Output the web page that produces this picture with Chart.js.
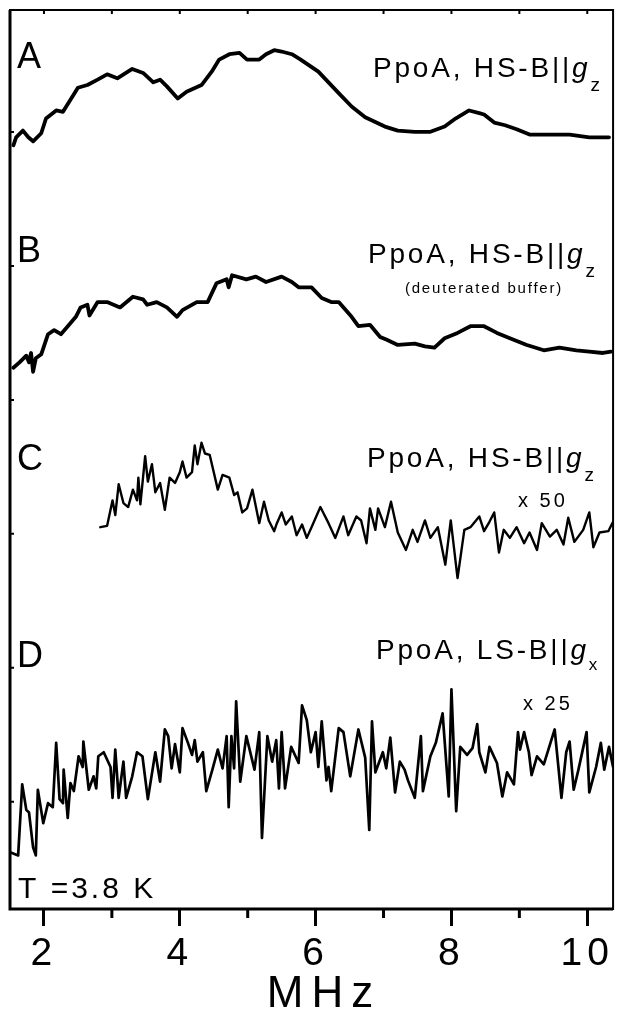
<!DOCTYPE html>
<html>
<head>
<meta charset="utf-8">
<script src="https://cdn.jsdelivr.net/npm/chart.js@4.4.1/dist/chart.umd.min.js"></script>
<style>
  html, body { margin: 0; padding: 0; background: #fff; }
  canvas { display: block; }
</style>
</head>
<body>
<canvas id="chart-canvas" width="618" height="1010"></canvas>
<script>
// spectrum A: PpoA, HS-B||gz
const aFreq = [1.55, 1.59, 1.69, 1.77, 1.84, 1.96, 2.03, 2.18, 2.28, 2.39, 2.50, 2.64, 2.79, 2.93, 3.08, 3.30, 3.46, 3.61, 3.71, 3.81, 3.97, 4.10, 4.32, 4.47, 4.58, 4.73, 4.88, 4.99, 5.17, 5.27, 5.39, 5.50, 5.65, 5.78, 6.04, 6.34, 6.53, 6.73, 7.02, 7.21, 7.46, 7.68, 7.90, 8.06, 8.26, 8.41, 8.48, 8.63, 8.79, 8.96, 9.15, 9.45, 9.74, 10.03, 10.32];
const aSig = [5.90, 5.96, 6.01, 5.96, 5.93, 5.99, 6.10, 6.16, 6.15, 6.24, 6.33, 6.35, 6.39, 6.43, 6.40, 6.47, 6.44, 6.37, 6.39, 6.34, 6.25, 6.30, 6.35, 6.45, 6.54, 6.58, 6.59, 6.54, 6.54, 6.58, 6.61, 6.60, 6.58, 6.54, 6.45, 6.29, 6.19, 6.11, 6.04, 6.01, 6.00, 6.00, 6.04, 6.10, 6.16, 6.14, 6.13, 6.07, 6.05, 6.02, 5.98, 5.98, 5.98, 5.96, 5.96];

// spectrum B: deuterated buffer
const bFreq = [1.55, 1.64, 1.74, 1.78, 1.81, 1.84, 1.88, 1.96, 2.06, 2.15, 2.25, 2.37, 2.47, 2.54, 2.64, 2.67, 2.79, 2.93, 3.12, 3.31, 3.46, 3.52, 3.66, 3.81, 3.96, 4.04, 4.25, 4.41, 4.54, 4.69, 4.72, 4.77, 4.98, 5.12, 5.27, 5.50, 5.65, 5.75, 5.94, 6.09, 6.23, 6.34, 6.53, 6.63, 6.80, 6.95, 7.04, 7.21, 7.46, 7.61, 7.75, 7.90, 8.09, 8.28, 8.48, 8.67, 8.86, 9.11, 9.36, 9.59, 9.84, 10.03, 10.23, 10.35];
const bSig = [4.24, 4.28, 4.33, 4.28, 4.35, 4.21, 4.31, 4.34, 4.49, 4.52, 4.49, 4.56, 4.62, 4.69, 4.71, 4.63, 4.73, 4.73, 4.69, 4.77, 4.75, 4.71, 4.73, 4.69, 4.62, 4.67, 4.73, 4.73, 4.87, 4.90, 4.84, 4.93, 4.90, 4.92, 4.88, 4.92, 4.88, 4.84, 4.84, 4.76, 4.73, 4.73, 4.62, 4.55, 4.56, 4.47, 4.45, 4.41, 4.42, 4.40, 4.39, 4.46, 4.50, 4.55, 4.55, 4.50, 4.46, 4.41, 4.37, 4.39, 4.37, 4.36, 4.35, 4.36];

// spectrum C: x 50
const cFreq = [2.83, 2.93, 3.01, 3.05, 3.10, 3.17, 3.24, 3.31, 3.37, 3.39, 3.42, 3.49, 3.53, 3.59, 3.64, 3.71, 3.78, 3.85, 3.93, 4.00, 4.04, 4.10, 4.18, 4.22, 4.26, 4.32, 4.37, 4.44, 4.56, 4.63, 4.73, 4.80, 4.85, 4.92, 4.99, 5.07, 5.17, 5.24, 5.31, 5.39, 5.43, 5.50, 5.56, 5.65, 5.72, 5.80, 5.87, 5.94, 6.07, 6.19, 6.29, 6.41, 6.48, 6.60, 6.67, 6.75, 6.80, 6.88, 6.92, 7.02, 7.11, 7.21, 7.33, 7.43, 7.50, 7.61, 7.69, 7.80, 7.91, 7.99, 8.09, 8.19, 8.28, 8.41, 8.48, 8.56, 8.63, 8.70, 8.77, 8.86, 8.96, 9.07, 9.15, 9.26, 9.33, 9.45, 9.55, 9.65, 9.72, 9.81, 9.94, 10.03, 10.09, 10.18, 10.31, 10.38];
const cSig = [3.05, 3.06, 3.25, 3.14, 3.37, 3.23, 3.20, 3.33, 3.25, 3.42, 3.22, 3.58, 3.39, 3.52, 3.31, 3.38, 3.18, 3.42, 3.38, 3.46, 3.54, 3.42, 3.46, 3.66, 3.52, 3.68, 3.60, 3.59, 3.33, 3.44, 3.42, 3.29, 3.31, 3.16, 3.19, 3.33, 3.08, 3.24, 3.10, 3.02, 3.08, 3.16, 3.07, 3.13, 2.99, 3.07, 2.97, 3.05, 3.20, 3.08, 2.97, 3.13, 2.99, 3.13, 3.10, 2.93, 3.19, 3.03, 3.19, 3.05, 3.24, 3.01, 2.88, 3.03, 2.94, 3.10, 2.97, 3.05, 2.77, 3.10, 2.67, 3.03, 3.05, 3.13, 3.02, 3.09, 3.16, 2.86, 3.03, 2.97, 3.05, 2.93, 3.01, 2.88, 3.08, 2.98, 3.03, 2.92, 3.12, 2.94, 3.03, 3.16, 2.90, 3.01, 3.02, 3.09];

// spectrum D: PpoA, LS-B||gx, x 25
const dFreq = [1.52, 1.62, 1.68, 1.74, 1.78, 1.84, 1.88, 1.91, 1.99, 2.06, 2.13, 2.18, 2.23, 2.28, 2.29, 2.35, 2.39, 2.44, 2.51, 2.57, 2.58, 2.66, 2.73, 2.77, 2.80, 2.88, 2.98, 3.01, 3.05, 3.10, 3.17, 3.21, 3.30, 3.37, 3.45, 3.53, 3.64, 3.71, 3.78, 3.83, 3.88, 3.93, 4.00, 4.04, 4.12, 4.18, 4.22, 4.26, 4.34, 4.39, 4.48, 4.56, 4.63, 4.69, 4.72, 4.76, 4.80, 4.83, 4.89, 4.98, 5.10, 5.17, 5.21, 5.29, 5.36, 5.42, 5.46, 5.50, 5.55, 5.64, 5.75, 5.80, 5.87, 5.93, 6.00, 6.04, 6.09, 6.16, 6.19, 6.23, 6.34, 6.41, 6.51, 6.63, 6.73, 6.79, 6.83, 6.88, 6.99, 7.04, 7.10, 7.17, 7.24, 7.31, 7.36, 7.46, 7.55, 7.58, 7.69, 7.77, 7.87, 7.96, 8.00, 8.07, 8.13, 8.23, 8.31, 8.38, 8.41, 8.50, 8.56, 8.67, 8.75, 8.82, 8.92, 8.98, 9.01, 9.07, 9.14, 9.18, 9.26, 9.36, 9.52, 9.62, 9.69, 9.74, 9.80, 9.87, 9.99, 10.03, 10.13, 10.20, 10.25, 10.32, 10.38];
const dSig = [0.62, 0.60, 1.13, 0.94, 0.92, 0.66, 0.60, 1.09, 0.84, 0.99, 0.96, 1.44, 1.02, 0.99, 1.24, 0.88, 1.14, 1.08, 1.34, 1.26, 1.45, 1.09, 1.19, 1.10, 1.34, 1.37, 1.26, 1.03, 1.39, 1.03, 1.30, 1.03, 1.19, 1.37, 1.34, 1.02, 1.37, 1.15, 1.54, 1.49, 1.25, 1.43, 1.22, 1.55, 1.44, 1.35, 1.46, 1.30, 1.37, 1.08, 1.24, 1.39, 1.25, 1.49, 0.96, 1.49, 1.25, 1.75, 1.15, 1.49, 1.24, 1.52, 0.73, 1.49, 1.30, 1.46, 1.10, 1.52, 1.10, 1.41, 1.29, 1.72, 1.61, 1.37, 1.52, 1.26, 1.60, 1.16, 1.26, 1.08, 1.55, 1.52, 1.19, 1.54, 1.33, 0.79, 1.60, 1.22, 1.37, 1.25, 1.48, 1.07, 1.30, 1.24, 1.16, 1.03, 1.49, 1.08, 1.34, 1.44, 1.66, 1.04, 1.84, 0.93, 1.41, 1.35, 1.40, 1.58, 1.37, 1.22, 1.41, 1.29, 1.04, 1.22, 1.13, 1.52, 1.39, 1.52, 1.37, 1.20, 1.34, 1.28, 1.54, 1.03, 1.37, 1.45, 1.09, 1.24, 1.52, 1.07, 1.26, 1.44, 1.24, 1.41, 1.26];

const xTickValues = [2, 3, 4, 5, 6, 7, 8, 9, 10];
const yTickValues = [1, 2, 3, 4, 5, 6];

const FONT = "'Liberation Sans', Arial, Helvetica, sans-serif";

function toPoints(xs, ys) {
  return xs.map((x, i) => ({ x: x, y: ys[i] }));
}

function trace(xs, ys, width) {
  return {
    data: toPoints(xs, ys),
    borderColor: '#000',
    borderWidth: width,
    pointRadius: 0,
    tension: 0,
    borderJoinStyle: 'round',
    borderCapStyle: 'round',
    fill: false,
  };
}

// panel letters and captions (pixel placement)
const captions = [
  { letter: 'A', ly: 68, main: 'PpoA, HS-B||', sub: 'z', x: 373, y: 77 },
  { letter: 'B', ly: 262, main: 'PpoA, HS-B||', sub: 'z', x: 368, y: 263 },
  { letter: 'C', ly: 470, main: 'PpoA, HS-B||', sub: 'z', x: 367, y: 467 },
  { letter: 'D', ly: 667, main: 'PpoA, LS-B||', sub: 'x', x: 376, y: 659 },
];

const framePlugin = {
  id: 'frame',
  beforeDraw(chart) {
    chart.ctx.letterSpacing = '5px';
  },
  beforeDatasetsDraw(chart) {
    chart.ctx.letterSpacing = '0px';
  },
  afterDraw(chart) {
    const ctx = chart.ctx;
    const a = chart.chartArea;
    const xs = chart.scales.x;
    const ys = chart.scales.y;
    ctx.save();
    ctx.strokeStyle = '#000';
    ctx.lineWidth = 2;
    ctx.strokeRect(a.left, a.top, a.right - a.left, a.bottom - a.top);
    ctx.lineWidth = 3;
    ctx.beginPath();
    ctx.moveTo(a.left, a.top);
    ctx.lineTo(a.left, a.bottom);
    ctx.lineTo(a.right, a.bottom);
    ctx.stroke();

    // inward ticks on top and left, short minor ticks below
    ctx.lineWidth = 2;
    ctx.beginPath();
    xTickValues.forEach(v => {
      const px = xs.getPixelForValue(v);
      ctx.moveTo(px, a.top);
      ctx.lineTo(px, a.top + 4);
    });
    yTickValues.forEach(v => {
      const py = ys.getPixelForValue(v);
      ctx.moveTo(a.left, py);
      ctx.lineTo(a.left + 4, py);
    });
    ctx.stroke();
    ctx.lineWidth = 3;
    ctx.beginPath();
    xTickValues.filter(v => v % 2 === 1).forEach(v => {
      const px = xs.getPixelForValue(v);
      ctx.moveTo(px, a.bottom);
      ctx.lineTo(px, a.bottom + 9);
    });
    ctx.stroke();

    ctx.fillStyle = '#000';
    ctx.textBaseline = 'alphabetic';
    ctx.textAlign = 'left';
    captions.forEach(c => {
      ctx.letterSpacing = '0px';
      ctx.font = '36px ' + FONT;
      ctx.fillText(c.letter, 17, c.ly);

      ctx.letterSpacing = '2.8px';
      ctx.font = '28px ' + FONT;
      ctx.fillText(c.main, c.x, c.y);
      let w = ctx.measureText(c.main).width;
      ctx.font = 'italic 28px ' + FONT;
      ctx.fillText('g', c.x + w, c.y);
      w += ctx.measureText('g').width;
      ctx.letterSpacing = '0px';
      if (c.sub === 'z') {
        ctx.font = '19px ' + FONT;
        ctx.fillText(c.sub, c.x + w, c.y + 14);
      } else {
        ctx.font = '17px ' + FONT;
        ctx.fillText(c.sub, c.x + w, c.y + 11);
      }
    });

    ctx.letterSpacing = '1.8px';
    ctx.font = '15px ' + FONT;
    ctx.textAlign = 'center';
    ctx.fillText('(deuterated buffer)', 484, 293);

    // axis title
    ctx.letterSpacing = '8px';
    ctx.font = '44px ' + FONT;
    ctx.fillText('MHz', 324, 1007);

    ctx.letterSpacing = '3px';
    ctx.font = '20px ' + FONT;
    ctx.textAlign = 'left';
    ctx.fillText('x 50', 518, 507);
    ctx.fillText('x 25', 523, 710);

    ctx.font = '30px ' + FONT;
    ctx.fillText('T =3.8 K', 18, 898);
    ctx.restore();
  }
};

new Chart(document.getElementById('chart-canvas'), {
  type: 'line',
  data: {
    datasets: [
      trace(aFreq, aSig, 3.8),
      trace(bFreq, bSig, 3.8),
      trace(cFreq, cSig, 2.4),
      trace(dFreq, dSig, 2.7),
    ],
  },
  options: {
    responsive: false,
    animation: false,
    layout: { padding: { left: 10, right: 1, top: 10, bottom: 0 } },
    plugins: {
      legend: { display: false },
      tooltip: { enabled: false },
    },
    scales: {
      x: {
        type: 'linear',
        min: 1.5,
        max: 10.38,
        afterFit: scale => { scale.height = 101; },
        border: { display: false },
        grid: {
          drawOnChartArea: false,
          tickLength: 17,
          tickWidth: 3,
          tickColor: c => (c.tick && c.tick.value % 2 === 0 ? '#000' : 'rgba(0,0,0,0)'),
        },
        ticks: {
          stepSize: 1,
          includeBounds: false,
          autoSkip: false,
          maxRotation: 0,
          padding: 9,
          color: '#000',
          font: { family: FONT, size: 39, lineHeight: 1 },
          callback: v => (v % 2 === 0 ? String(v) : ''),
        },
        title: { display: false },
      },
      y: {
        type: 'linear',
        display: false,
        min: 0.2,
        max: 6.91,
      },
    },
  },
  plugins: [framePlugin],
});
</script>
</body>
</html>
